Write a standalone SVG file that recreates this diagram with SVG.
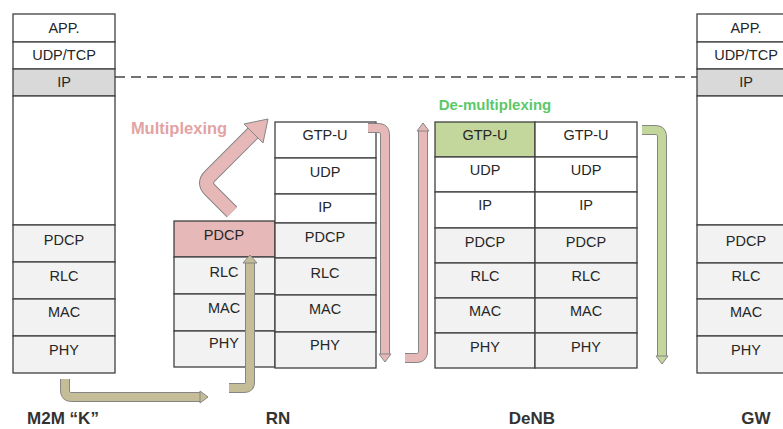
<svg xmlns="http://www.w3.org/2000/svg" width="783" height="429" viewBox="0 0 783 429">
<style>
.c{stroke:#404040;stroke-width:1.3}
.w{fill:#ffffff}.g{fill:#f2f2f2}.ip{fill:#d9d9d9}.pk{fill:#e6b8b7}.gr{fill:#c3d69b}
.t{font-family:"Liberation Sans",Arial,sans-serif;font-size:14.5px;fill:#262626;text-anchor:middle}
.lb{font-family:"Liberation Sans",Arial,sans-serif;font-size:17px;font-weight:bold;fill:#333;text-anchor:middle}
.o{fill:none;stroke:#858585}
.hd{stroke:#858585;stroke-width:1}
</style>
<rect width="783" height="429" fill="#ffffff"/>
<line x1="115" y1="77" x2="697" y2="77" stroke="#444" stroke-width="1.3" stroke-dasharray="10 6"/>

<g id="m2m">
<rect class="c w" x="13" y="14" width="102" height="28"/>
<rect class="c w" x="13" y="42" width="102" height="27"/>
<rect class="c ip" x="13" y="69" width="102" height="27"/>
<rect class="c w" x="13" y="96" width="102" height="129"/>
<rect class="c g" x="13" y="225" width="102" height="37"/>
<rect class="c g" x="13" y="262" width="102" height="37"/>
<rect class="c g" x="13" y="299" width="102" height="37"/>
<rect class="c g" x="13" y="336" width="102" height="37"/>
<text class="t" x="64" y="33">APP.</text>
<text class="t" x="64" y="60">UDP/TCP</text>
<text class="t" x="64" y="87">IP</text>
<text class="t" x="64" y="245">PDCP</text>
<text class="t" x="64" y="281">RLC</text>
<text class="t" x="64" y="317">MAC</text>
<text class="t" x="64" y="355">PHY</text>
<text class="lb" x="63" y="424">M2M “K”</text>
</g>

<g id="rn">
<rect class="c pk" x="174" y="221" width="101" height="36"/>
<rect class="c g" x="174" y="257" width="101" height="37"/>
<rect class="c g" x="174" y="294" width="101" height="37"/>
<rect class="c g" x="174" y="331" width="101" height="36"/>
<rect class="c w" x="275" y="122" width="101" height="36"/>
<rect class="c w" x="275" y="158" width="101" height="36"/>
<rect class="c w" x="275" y="194" width="101" height="29"/>
<rect class="c g" x="275" y="223" width="101" height="35"/>
<rect class="c g" x="275" y="258" width="101" height="37"/>
<rect class="c g" x="275" y="295" width="101" height="37"/>
<rect class="c g" x="275" y="332" width="101" height="36"/>
<text class="t" x="224" y="240">PDCP</text>
<text class="t" x="224" y="277">RLC</text>
<text class="t" x="224" y="313">MAC</text>
<text class="t" x="224" y="348">PHY</text>
<text class="t" x="325" y="140">GTP-U</text>
<text class="t" x="325" y="177">UDP</text>
<text class="t" x="325" y="212">IP</text>
<text class="t" x="325" y="242">PDCP</text>
<text class="t" x="325" y="278">RLC</text>
<text class="t" x="325" y="314">MAC</text>
<text class="t" x="325" y="350">PHY</text>
<text class="lb" x="278" y="424">RN</text>
</g>

<g id="denb">
<rect class="c gr" x="435" y="122" width="100" height="35"/>
<rect class="c w" x="535" y="122" width="102" height="35"/>
<rect class="c w" x="435" y="157" width="100" height="35"/>
<rect class="c w" x="535" y="157" width="102" height="35"/>
<rect class="c w" x="435" y="192" width="100" height="36"/>
<rect class="c w" x="535" y="192" width="102" height="36"/>
<rect class="c g" x="435" y="228" width="100" height="35"/>
<rect class="c g" x="535" y="228" width="102" height="35"/>
<rect class="c g" x="435" y="263" width="100" height="35"/>
<rect class="c g" x="535" y="263" width="102" height="35"/>
<rect class="c g" x="435" y="298" width="100" height="35"/>
<rect class="c g" x="535" y="298" width="102" height="35"/>
<rect class="c g" x="435" y="333" width="100" height="35"/>
<rect class="c g" x="535" y="333" width="102" height="35"/>
<text class="t" x="485" y="140">GTP-U</text>
<text class="t" x="586" y="140">GTP-U</text>
<text class="t" x="485" y="175">UDP</text>
<text class="t" x="586" y="175">UDP</text>
<text class="t" x="485" y="210">IP</text>
<text class="t" x="586" y="210">IP</text>
<text class="t" x="485" y="247">PDCP</text>
<text class="t" x="586" y="247">PDCP</text>
<text class="t" x="485" y="281">RLC</text>
<text class="t" x="586" y="281">RLC</text>
<text class="t" x="485" y="316">MAC</text>
<text class="t" x="586" y="316">MAC</text>
<text class="t" x="485" y="352">PHY</text>
<text class="t" x="586" y="352">PHY</text>
<text class="lb" x="532" y="424">DeNB</text>
</g>

<g id="gw">
<rect class="c w" x="697" y="14" width="102" height="28"/>
<rect class="c w" x="697" y="42" width="102" height="27"/>
<rect class="c ip" x="697" y="69" width="102" height="27"/>
<rect class="c w" x="697" y="96" width="102" height="129"/>
<rect class="c g" x="697" y="225" width="102" height="38"/>
<rect class="c g" x="697" y="263" width="102" height="36"/>
<rect class="c g" x="697" y="299" width="102" height="37"/>
<rect class="c g" x="697" y="336" width="102" height="37"/>
<text class="t" x="746" y="33">APP.</text>
<text class="t" x="746" y="60">UDP/TCP</text>
<text class="t" x="746" y="87">IP</text>
<text class="t" x="746" y="246">PDCP</text>
<text class="t" x="746" y="281">RLC</text>
<text class="t" x="746" y="317">MAC</text>
<text class="t" x="746" y="355">PHY</text>
<text class="lb" x="756" y="424">GW</text>
</g>

<g id="labels">
<text x="179" y="134" font-family="Liberation Sans, Arial, sans-serif" font-size="16.5" font-weight="bold" fill="#e3a3a2" text-anchor="middle">Multiplexing</text>
<text x="495" y="110" font-family="Liberation Sans, Arial, sans-serif" font-size="15" font-weight="bold" fill="#5cc86a" text-anchor="middle">De-multiplexing</text>
</g>

<g id="connectors">
<path class="o" stroke-width="15" d="M232 212 L210 190 Q203 183 210 176 L256 130"/>
<path fill="none" stroke="#e6b8b7" stroke-width="13" d="M232 212 L210 190 Q203 183 210 176 L256 130"/>
<polygon class="hd" fill="#e6b8b7" points="244,124 268,119 263,143"/>
<path class="o" stroke-width="10" d="M65 379 L65 390 Q65 397 72 397 L201 397"/>
<path fill="none" stroke="#c4bd97" stroke-width="8" d="M65 379 L65 390 Q65 397 72 397 L201 397"/>
<polygon class="hd" fill="#c4bd97" points="200,391 208,397 200,403"/>
<path class="o" stroke-width="10" d="M229 388 L244 388 Q250 388 250 382 L250 262"/>
<path fill="none" stroke="#c4bd97" stroke-width="8" d="M229 388 L244 388 Q250 388 250 382 L250 262"/>
<polygon class="hd" fill="#c4bd97" points="243,263 250,255 257,263"/>
<path class="o" stroke-width="10" d="M368 128 L378 128 Q385 128 385 135 L385 355"/>
<path fill="none" stroke="#e6b8b7" stroke-width="8" d="M368 128 L378 128 Q385 128 385 135 L385 355"/>
<polygon class="hd" fill="#e6b8b7" points="379,354 385,362 391,354"/>
<path class="o" stroke-width="10" d="M405 358 L416 358 Q423 358 423 351 L423 130"/>
<path fill="none" stroke="#e6b8b7" stroke-width="8" d="M405 358 L416 358 Q423 358 423 351 L423 130"/>
<polygon class="hd" fill="#e6b8b7" points="417,131 423,123 429,131"/>
<path class="o" stroke-width="10" d="M642 130 L655 130 Q662 130 662 137 L662 357"/>
<path fill="none" stroke="#c3d69b" stroke-width="8" d="M642 130 L655 130 Q662 130 662 137 L662 357"/>
<polygon class="hd" fill="#c3d69b" points="656,356 662,364 668,356"/>
</g>
</svg>
